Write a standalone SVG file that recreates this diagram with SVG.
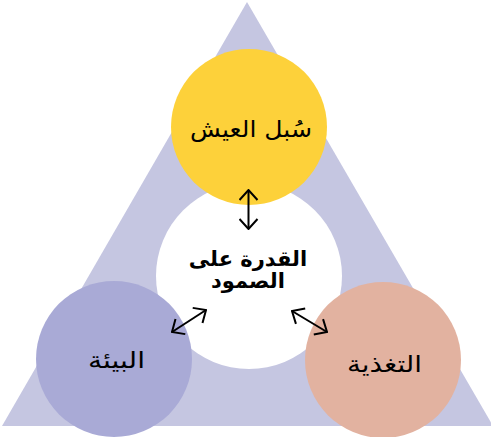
<svg xmlns="http://www.w3.org/2000/svg" width="491" height="437" viewBox="0 0 491 437">
<style>
.t{font-family:"DejaVu Sans","Liberation Sans",sans-serif;font-size:21px;fill:#000;text-anchor:middle}
.n{font-size:23px}
.b{font-weight:bold}
.c{stroke:#000;stroke-width:2;fill:none}
</style>
<defs>
<marker id="ah" viewBox="0 0 12 20" refX="11" refY="10" markerWidth="12" markerHeight="20" markerUnits="userSpaceOnUse" orient="auto-start-reverse">
<path d="M1,1 L11,10 L1,19" fill="none" stroke="#000" stroke-width="2"/>
</marker>
</defs>
<polygon points="247,2 2,426 493,426" fill="#C5C6E1"/>
<g id="center">
<circle cx="249" cy="276" r="93" fill="#FFFFFF"/>
<text class="t b" x="248" y="266">القدرة على</text>
<text class="t b" x="248" y="288">الصمود</text>
</g>
<g id="livelihoods">
<circle cx="249" cy="127" r="78" fill="#FDD13A"/>
<text class="t n" x="251" y="137" textLength="122" lengthAdjust="spacingAndGlyphs">سُبل العيش</text>
</g>
<g id="environment">
<circle cx="114" cy="359" r="78" fill="#A9AAD6"/>
<text class="t n" x="116.5" y="368" textLength="57" lengthAdjust="spacingAndGlyphs">البيئة</text>
</g>
<g id="nutrition">
<circle cx="383" cy="360" r="78" fill="#E2B2A0"/>
<text class="t n" x="384.5" y="372" textLength="75" lengthAdjust="spacingAndGlyphs">التغذية</text>
</g>
<g id="connectors">
<line class="c" x1="248.5" y1="190" x2="248.5" y2="229" marker-start="url(#ah)" marker-end="url(#ah)"/>
<line class="c" x1="172" y1="332" x2="206" y2="310" marker-start="url(#ah)" marker-end="url(#ah)"/>
<line class="c" x1="292" y1="311" x2="327" y2="332" marker-start="url(#ah)" marker-end="url(#ah)"/>
</g>
</svg>
